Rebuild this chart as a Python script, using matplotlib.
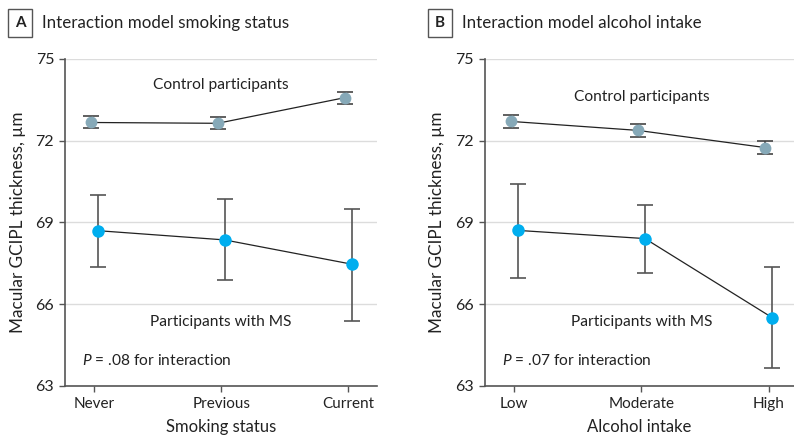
import numpy as np
import matplotlib
matplotlib.use('Agg')
import matplotlib.pyplot as plt

#%% Datos
smoking = ['Never', 'Previous', 'Current']
alcohol = ['Low', 'Moderate', 'High']

# Panel A - smoking status
ctrl_a = [72.67, 72.64, 73.58]
ctrl_a_lo = [72.46, 72.42, 73.35]
ctrl_a_hi = [72.91, 72.86, 73.80]
ms_a = [68.70, 68.36, 67.47]
ms_a_lo = [67.38, 66.89, 65.40]
ms_a_hi = [70.01, 69.85, 69.48]

# Panel B - alcohol intake
ctrl_b = [72.71, 72.38, 71.75]
ctrl_b_lo = [72.47, 72.15, 71.52]
ctrl_b_hi = [72.93, 72.61, 71.99]
ms_b = [68.71, 68.41, 65.51]
ms_b_lo = [66.96, 67.15, 63.65]
ms_b_hi = [70.42, 69.65, 67.36]

yticks = [63, 66, 69, 72, 75]

#%% Estilo
plt.rcParams['font.family'] = ['Lato', 'DejaVu Sans']
plt.rcParams['mathtext.fontset'] = 'custom'
plt.rcParams['mathtext.it'] = 'Lato:italic'
plt.rcParams['mathtext.rm'] = 'Lato'

c_ctrl = '#86a9b8'
c_ms = '#00aeef'
c_txt = '#222222'

fig = plt.figure(figsize=(7.94, 4.36), dpi=100)
ax_a = fig.add_axes([0.0822, 0.1147, 0.3922, 0.75])
ax_b = fig.add_axes([0.6108, 0.1147, 0.3892, 0.75])


def panel(ax, cats, ctrl, ctrl_lo, ctrl_hi, ms, ms_lo, ms_hi, xlabel, ptxt, xlim, ctrl_lab_y):
    x = np.arange(len(cats))
    dx = 0.028
    ctrl = np.array(ctrl)
    ms = np.array(ms)
    ax.errorbar(x - dx, ctrl, yerr=[ctrl - np.array(ctrl_lo), np.array(ctrl_hi) - ctrl],
                fmt='none', ecolor='#444444', elinewidth=1.2, capsize=6, capthick=1.2, zorder=2)
    ax.plot(x - dx, ctrl, '-', color='#222222', lw=0.9, zorder=3)
    ax.plot(x - dx, ctrl, 'o', color=c_ctrl, ms=8.5, mec='none', zorder=4)

    ax.errorbar(x + dx, ms, yerr=[ms - np.array(ms_lo), np.array(ms_hi) - ms],
                fmt='none', ecolor='#555555', elinewidth=1.2, capsize=6, capthick=1.2, zorder=2)
    ax.plot(x + dx, ms, '-', color='#222222', lw=0.9, zorder=3)
    ax.plot(x + dx, ms, 'o', color=c_ms, ms=9, mec='none', zorder=4)

    ax.text(1, ctrl_lab_y, 'Control participants', ha='center', va='center', fontsize=11.2, color=c_txt)
    ax.text(1, 65.35, 'Participants with MS', ha='center', va='center', fontsize=11.2, color=c_txt)
    ax.text(-0.1, 63.95, ptxt, ha='left', va='center', fontsize=11.2, color=c_txt)

    ax.set_xlim(xlim)
    ax.set_ylim(63, 75)
    ax.set_xticks(x)
    ax.set_xticklabels(cats, fontsize=11, color=c_txt)
    ax.set_yticks(yticks)
    ax.set_yticklabels([str(t) for t in yticks], fontsize=11.5, color=c_txt)
    ax.set_xlabel(xlabel, fontsize=12, color=c_txt, labelpad=6)
    ax.set_ylabel('Macular GCIPL thickness, µm', fontsize=12.3, color=c_txt, labelpad=7)

    ax.grid(axis='y', color='#dcdcdc', lw=1.0)
    ax.set_axisbelow(True)
    for s in ['top', 'right']:
        ax.spines[s].set_visible(False)
    for s in ['left', 'bottom']:
        ax.spines[s].set_color('#555555')
        ax.spines[s].set_linewidth(1.2)
    ax.tick_params(axis='both', length=4, width=1, color='#555555', pad=4)


panel(ax_a, smoking, ctrl_a, ctrl_a_lo, ctrl_a_hi, ms_a, ms_a_lo, ms_a_hi,
      'Smoking status', '$P$ = .08 for interaction', (-0.228, 2.224), 74.05)
panel(ax_b, alcohol, ctrl_b, ctrl_b_lo, ctrl_b_hi, ms_b, ms_b_lo, ms_b_hi,
      'Alcohol intake', '$P$ = .07 for interaction', (-0.23, 2.2), 73.6)

# Titulos de panel
for xb, letra, titulo in [(0.0252, 'A', 'Interaction model smoking status'),
                          (0.5542, 'B', 'Interaction model alcohol intake')]:
    fig.text(xb, 0.947, letra, ha='center', va='center', fontsize=11, fontweight='bold', color=c_txt,
             bbox=dict(boxstyle='square,pad=0.45', fc='white', ec='#555555', lw=1))
    fig.text(xb + 0.028, 0.947, titulo, ha='left', va='center', fontsize=12.2, color=c_txt)

fig.savefig('out.png', dpi=100)
